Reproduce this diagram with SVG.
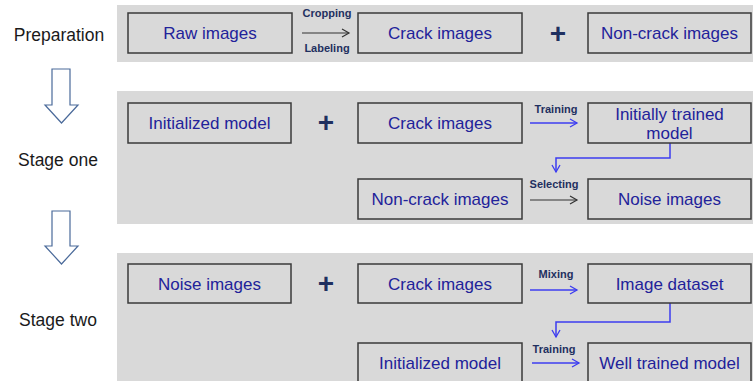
<svg xmlns="http://www.w3.org/2000/svg" width="753" height="381" viewBox="0 0 753 381">
<defs>
<style>
.panel{fill:#d9d9d9}
.box{fill:#d9d9d9;stroke:#3a3a3a;stroke-width:1.5}
.bt{font-family:"Liberation Sans",Arial,sans-serif;font-size:17px;fill:#22229a;text-anchor:middle}
.side{font-family:"Liberation Sans",Arial,sans-serif;font-size:17.5px;fill:#1a1a1a;text-anchor:middle}
.lab{font-family:"Liberation Sans",Arial,sans-serif;font-size:11px;font-weight:bold;fill:#1f3060;text-anchor:middle}
.plus{font-family:"Liberation Sans",Arial,sans-serif;font-size:28px;font-weight:bold;fill:#1f3060;text-anchor:middle}
.ab{fill:none;stroke:#333;stroke-width:1.2}
.au{fill:none;stroke:#3c3cf0;stroke-width:1.5}
.hollow{fill:#fff;stroke:#4a6a9a;stroke-width:1.2}
</style>
<marker id="mk" markerWidth="10" markerHeight="10" refX="8" refY="5" orient="auto" markerUnits="userSpaceOnUse"><path d="M1,1 L8,5 L1,9" fill="none" stroke="#333" stroke-width="1.2"/></marker>
<marker id="mu" markerWidth="10" markerHeight="10" refX="8" refY="5" orient="auto" markerUnits="userSpaceOnUse"><path d="M1,1 L8,5 L1,9" fill="none" stroke="#3c3cf0" stroke-width="1.3"/></marker>
</defs>
<rect width="753" height="381" fill="#fff"/>
<rect class="panel" x="117" y="5" width="636" height="57"/>
<rect class="panel" x="117" y="91" width="636" height="133"/>
<rect class="panel" x="117" y="253" width="636" height="128"/>

<g id="stages">
<text class="side" x="59" y="41">Preparation</text>
<text class="side" x="58" y="166">Stage one</text>
<text class="side" x="58" y="326">Stage two</text>
<path class="hollow" d="M52,69 H70 V105 H78 L61.5,123 L45,105 H52 Z"/>
<path class="hollow" d="M52,211 H70 V246 H78 L61.5,264 L45,246 H52 Z"/>
</g>

<g id="connectors">
<line class="ab" x1="302" y1="33" x2="349" y2="33" marker-end="url(#mk)"/>
<text class="lab" x="327" y="17">Cropping</text>
<text class="lab" x="327" y="52">Labeling</text>
<line class="au" x1="530" y1="123" x2="577" y2="123" marker-end="url(#mu)"/>
<text class="lab" x="556" y="113">Training</text>
<path class="au" d="M670,143 V158 H556 V172" marker-end="url(#mu)"/>
<line class="ab" x1="530" y1="200" x2="577" y2="200" marker-end="url(#mk)"/>
<text class="lab" x="554" y="188">Selecting</text>
<line class="au" x1="530" y1="290" x2="577" y2="290" marker-end="url(#mu)"/>
<text class="lab" x="556" y="278">Mixing</text>
<path class="au" d="M670,303 V322 H556 V337" marker-end="url(#mu)"/>
<line class="au" x1="532" y1="363" x2="579" y2="363" marker-end="url(#mu)"/>
<text class="lab" x="554" y="353">Training</text>
</g>

<g id="raw"><rect class="box" x="128" y="13" width="164" height="40"/><text class="bt" x="210" y="39">Raw images</text></g>
<g id="crack0"><rect class="box" x="358" y="13" width="164" height="40"/><text class="bt" x="440" y="39">Crack images</text></g>
<text class="plus" x="558" y="43">+</text>
<g id="noncrack0"><rect class="box" x="588" y="13" width="163" height="40"/><text class="bt" x="669.5" y="39">Non-crack images</text></g>

<g id="init1"><rect class="box" x="128" y="103" width="163" height="40"/><text class="bt" x="209.5" y="129">Initialized model</text></g>
<text class="plus" x="326" y="132">+</text>
<g id="crack1"><rect class="box" x="358" y="103" width="164" height="40"/><text class="bt" x="440" y="129">Crack images</text></g>
<g id="itm"><rect class="box" x="588" y="103" width="163" height="40"/><text class="bt" x="669.5" y="120">Initially trained</text><text class="bt" x="669.5" y="139">model</text></g>
<g id="noncrack1"><rect class="box" x="358" y="179" width="164" height="40"/><text class="bt" x="440" y="205">Non-crack images</text></g>
<g id="noise1"><rect class="box" x="588" y="179" width="163" height="40"/><text class="bt" x="669.5" y="205">Noise images</text></g>

<g id="noise2"><rect class="box" x="128" y="264" width="163" height="39"/><text class="bt" x="209.5" y="290">Noise images</text></g>
<text class="plus" x="326" y="293">+</text>
<g id="crack2"><rect class="box" x="358" y="264" width="164" height="39"/><text class="bt" x="440" y="290">Crack images</text></g>
<g id="dataset"><rect class="box" x="588" y="264" width="163" height="39"/><text class="bt" x="669.5" y="290">Image dataset</text></g>
<g id="init2"><rect class="box" x="358" y="343" width="164" height="40"/><text class="bt" x="440" y="369">Initialized model</text></g>
<g id="well"><rect class="box" x="588" y="343" width="163" height="40"/><text class="bt" x="669.5" y="369">Well trained model</text></g>
</svg>
